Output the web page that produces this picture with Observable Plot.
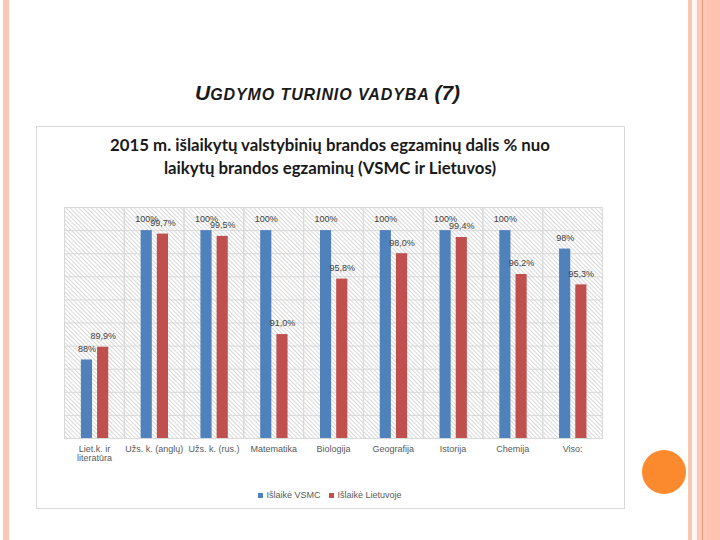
<!DOCTYPE html>
<html>
<head>
<meta charset="utf-8">
<script src="https://cdn.jsdelivr.net/npm/d3@7"></script>
<script src="https://cdn.jsdelivr.net/npm/@observablehq/plot@0.6"></script>
<style>
  html, body { margin: 0; padding: 0; background: #fff; }
  #slide { position: relative; width: 720px; height: 540px; overflow: hidden; background: #fff; }
  .abs { position: absolute; }
</style>
</head>
<body>
<div id="slide">
  <div class="abs" style="left:3px;top:0;width:6px;height:540px;background:#f9c8b5"></div>
  <div class="abs" style="left:688px;top:0;width:4px;height:540px;background:#f9c8b5"></div>
  <div class="abs" style="left:692px;top:0;width:5px;height:540px;background:#fff8f2"></div>
  <div class="abs" style="left:697px;top:0;width:23px;height:540px;background:#fbc9b6"></div>
  <div class="abs" style="left:702px;top:0;width:1px;height:540px;background:#e99a72"></div>
  <div class="abs" style="left:707px;top:0;width:13px;height:540px;background:#fcc4af"></div>

  <div class="abs" id="title" style="left:195px;top:81px;line-height:24px;font-family:'Liberation Sans',Arial,sans-serif;font-style:italic;font-weight:bold;color:#1a1a1a;white-space:nowrap">
    <span style="font-size:21px">U</span><span style="font-size:16px;letter-spacing:0.9px">GDYMO TURINIO VADYBA </span><span style="font-size:21px">(7)</span>
  </div>

  <div class="abs" style="left:36px;top:126px;width:587px;height:381px;border:1px solid #d9d9d9"></div>

  <div class="abs" style="left:36px;top:133px;width:588px;text-align:center;font-family:Lato,'Open Sans',sans-serif;font-weight:bold;font-size:16.8px;line-height:23px;color:#1a1a1a">
    2015 m. išlaikytų valstybinių brandos egzaminų dalis % nuo<br>laikytų brandos egzaminų (VSMC ir Lietuvos)
  </div>

  <div class="abs" id="chart" style="left:36px;top:190px"></div>

  <div class="abs" id="legend" style="left:36px;top:488px;width:588px;display:flex;justify-content:center;gap:9px;font-family:'Liberation Sans',Arial,sans-serif;font-size:9px;color:#595959;line-height:14px"></div>

  <div class="abs" style="left:642px;top:450px;width:44px;height:44px;border-radius:50%;background:#fb8a2e"></div>
</div>
<script>
const categories = ["Liet.k. ir\nliteratūra", "Užs. k. (anglų)", "Užs. k. (rus.)", "Matematika", "Biologija", "Geografija", "Istorija", "Chemija", "Viso:"];
const series = ["Išlaikė VSMC", "Išlaikė Lietuvoje"];
const vsmcValues = [88.8, 100, 100, 100, 100, 100, 100, 100, 98.4];
const lietuvaValues = [89.9, 99.7, 99.5, 91.0, 95.8, 98.0, 99.4, 96.2, 95.3];
const vsmcLabels = ["88%", "100%", "100%", "100%", "100%", "100%", "100%", "100%", "98%"];
const lietuvaLabels = ["89,9%", "99,7%", "99,5%", "91,0%", "95,8%", "98,0%", "99,4%", "96,2%", "95,3%"];
const yTicks = [82, 84, 86, 88, 90, 92, 94, 96, 98, 100, 102];
const colors = ["#4f81bd", "#c0504d"];

const rows = [];
categories.forEach((c, i) => {
  rows.push({category: c, series: series[0], value: vsmcValues[i], label: vsmcLabels[i]});
  rows.push({category: c, series: series[1], value: lietuvaValues[i], label: lietuvaLabels[i]});
});

const chart = Plot.plot({
  width: 588,
  height: 290,
  marginLeft: 28,
  marginRight: 22,
  marginTop: 17,
  marginBottom: 42,
  style: {fontFamily: "'Liberation Sans', Arial, sans-serif", fontSize: "9px", color: "#595959", background: "transparent", overflow: "visible"},
  fx: {domain: categories, padding: 0, round: false, label: null, tickSize: 0, tickPadding: 7, axis: "bottom"},
  x: {domain: series, paddingInner: 0.3125, paddingOuter: 1.0, align: 0.52, round: false, axis: null},
  y: {domain: [yTicks[0], yTicks[yTicks.length - 1]], axis: null},
  color: {domain: series, range: colors},
  marks: [
    Plot.frame({fill: "url(#hatch)", stroke: "none"}),
    Plot.gridY(yTicks, {stroke: "#d9d9d9", strokeOpacity: 1}),
    Plot.frame({stroke: "#d9d9d9", fill: "none"}),
    Plot.barY(rows, {fx: "category", x: "series", y1: yTicks[0], y2: "value", fill: "series"}),
    Plot.text(rows, {fx: "category", x: "series", y: "value", text: "label", dy: -11, fill: "#404040", fontSize: 9})
  ]
});

const ns = "http://www.w3.org/2000/svg";
const defs = document.createElementNS(ns, "defs");
const pat = document.createElementNS(ns, "pattern");
pat.setAttribute("id", "hatch");
pat.setAttribute("width", "3");
pat.setAttribute("height", "3");
pat.setAttribute("patternUnits", "userSpaceOnUse");
pat.setAttribute("patternTransform", "rotate(45)");
const ln = document.createElementNS(ns, "rect");
ln.setAttribute("x", "0");
ln.setAttribute("y", "0");
ln.setAttribute("width", "3");
ln.setAttribute("height", "0.8");
ln.setAttribute("fill", "#cfcfcf");
pat.appendChild(ln);
defs.appendChild(pat);
chart.insertBefore(defs, chart.firstChild);

document.getElementById("chart").appendChild(chart);

const legend = document.getElementById("legend");
series.forEach((s, i) => {
  const item = document.createElement("div");
  item.style.display = "flex";
  item.style.alignItems = "center";
  item.style.gap = "3px";
  const sw = document.createElement("span");
  sw.style.cssText = `display:inline-block;width:5px;height:5px;background:${colors[i]}`;
  const tx = document.createElement("span");
  tx.textContent = s;
  item.appendChild(sw);
  item.appendChild(tx);
  legend.appendChild(item);
});
</script>
</body>
</html>
